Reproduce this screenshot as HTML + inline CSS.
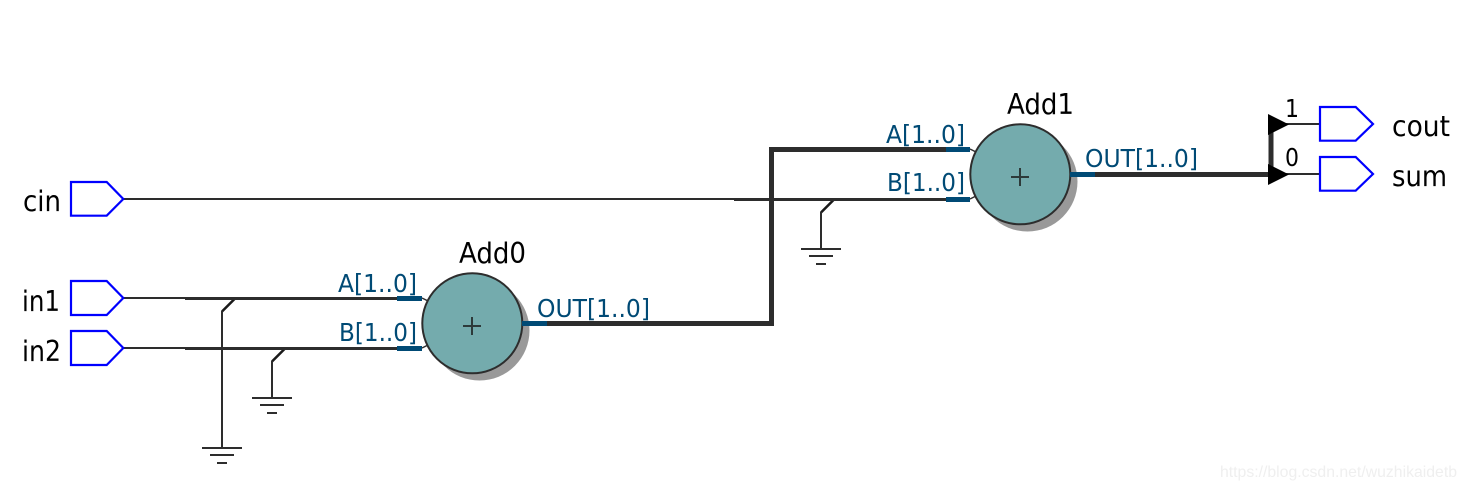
<!DOCTYPE html>
<html>
<head>
<meta charset="utf-8">
<style>
html,body{margin:0;padding:0;background:#fff;width:1466px;height:492px;overflow:hidden}
svg{display:block}
text{font-family:"DejaVu Sans","Liberation Sans",sans-serif;fill:#000}
.k{font-size:28.500px}
.n{font-size:25px}
.b{fill:#004a75;font-size:25px}
.w{stroke:#2d2d2d;fill:none;shape-rendering:crispEdges}
.d{stroke:#1a1a1a;fill:none;stroke-width:2.600}
.p{stroke:#0000ff;stroke-width:2.200;fill:#fff}
.s{stroke:#004a75;stroke-width:5;fill:none;shape-rendering:crispEdges}
</style>
</head>
<body>
<svg width="1466" height="492" viewBox="0 0 1466 492" xmlns="http://www.w3.org/2000/svg">
<!-- ground wires -->
<path class="d" d="M234.500 299L222 311.500"/>
<path class="d" d="M284.500 349L272 361.500"/>
<path class="d" d="M833.500 200L821 212.500"/>
<g class="w" stroke-width="2">
<path d="M222 311V448"/>
<path d="M272 361V398"/>
<path d="M821 212V249"/>
<path d="M202 448H242M210 455H234M217 463H227"/>
<path d="M252 398H292M260 405H284M267 413H277"/>
<path d="M801 249H841M809 256H833M816 264H826"/>
</g>
<!-- thin input wires -->
<g class="w" stroke-width="2">
<path d="M123 199H734"/>
<path d="M123 298H185"/>
<path d="M123 348H185"/>
</g>
<g class="w" stroke-width="3">
<path d="M185 298.500H398"/>
<path d="M185 348.500H398"/>
<path d="M734 199.500H947"/>
</g>
<!-- thick buses -->
<g class="w" stroke-width="5">
<path d="M546 323.500H771.500V149.500H947"/>
<path d="M1094 174.500H1272"/>
<path d="M1271 124V174"/>
</g>
<!-- output thin wires -->
<g class="w" stroke-width="2">
<path d="M1285 124H1320"/>
<path d="M1285 174H1320"/>
</g>
<g fill="none" stroke="#2d2d2d" stroke-width="1.500">
<path d="M422 298L428 301"/>
<path d="M422 348L428 345"/>
<path d="M970 149L976 152"/>
<path d="M970 199L976 196"/>
</g>
<!-- mux triangles -->
<polygon points="1268,114 1289,124.500 1268,135" fill="#000"/>
<polygon points="1268,164 1289,174.500 1268,185" fill="#000"/>
<!-- adders -->
<circle cx="479.500" cy="330.500" r="50" fill="#999"/>
<circle cx="472.300" cy="323.300" r="50" fill="#74abad" stroke="#2d2d2d" stroke-width="2"/>
<path d="M463 326H481M472 317V335" stroke="#2d3a3a" stroke-width="2" shape-rendering="crispEdges"/>
<circle cx="1027.500" cy="181.500" r="50" fill="#999"/>
<circle cx="1020.300" cy="174.300" r="50" fill="#74abad" stroke="#2d2d2d" stroke-width="2"/>
<path d="M1011 177H1029M1020 168V186" stroke="#2d3a3a" stroke-width="2" shape-rendering="crispEdges"/>
<!-- blue stubs -->
<g class="s">
<path d="M397 298.500H422"/>
<path d="M397 348.500H422"/>
<path d="M522 323.500H547"/>
<path d="M946 149.500H970"/>
<path d="M946 199.500H970"/>
<path d="M1070 174.500H1095"/>
</g>
<!-- pins -->
<polygon class="p" points="71,182 106.700,182 123.300,199 106.700,215.700 71,215.700"/>
<polygon class="p" points="71,281 106.700,281 123.300,298 106.700,315 71,315"/>
<polygon class="p" points="71,331 106.700,331 123.300,348 106.700,365 71,365"/>
<polygon class="p" points="1320,107 1355.700,107 1373,124 1355.700,140.700 1320,140.700"/>
<polygon class="p" points="1320,157 1355.700,157 1373,174 1355.700,190.700 1320,190.700"/>
<!-- labels -->
<text class="k" x="23" y="211" textLength="38" lengthAdjust="spacingAndGlyphs">cin</text>
<text class="k" x="22" y="311" textLength="38" lengthAdjust="spacingAndGlyphs">in1</text>
<text class="k" x="22" y="361" textLength="39" lengthAdjust="spacingAndGlyphs">in2</text>
<text class="k" x="459" y="263" textLength="67" lengthAdjust="spacingAndGlyphs">Add0</text>
<text class="k" x="1007" y="114" textLength="67" lengthAdjust="spacingAndGlyphs">Add1</text>
<text class="k" x="1392" y="136" textLength="58" lengthAdjust="spacingAndGlyphs">cout</text>
<text class="k" x="1392" y="186" textLength="55" lengthAdjust="spacingAndGlyphs">sum</text>
<text class="n" x="1285" y="117" textLength="14" lengthAdjust="spacingAndGlyphs">1</text>
<text class="n" x="1285" y="166" textLength="14" lengthAdjust="spacingAndGlyphs">0</text>
<text class="b" x="338" y="292" textLength="79" lengthAdjust="spacingAndGlyphs">A[1..0]</text>
<text class="b" x="339" y="341" textLength="78" lengthAdjust="spacingAndGlyphs">B[1..0]</text>
<text class="b" x="537" y="317" textLength="113" lengthAdjust="spacingAndGlyphs">OUT[1..0]</text>
<text class="b" x="886" y="143" textLength="79" lengthAdjust="spacingAndGlyphs">A[1..0]</text>
<text class="b" x="887" y="191" textLength="78" lengthAdjust="spacingAndGlyphs">B[1..0]</text>
<text class="b" x="1085" y="167" textLength="113" lengthAdjust="spacingAndGlyphs">OUT[1..0]</text>
<text x="1220" y="477" textLength="237" lengthAdjust="spacingAndGlyphs" style="font-family:'Liberation Sans',sans-serif;font-size:16px;fill:#efefef">https://blog.csdn.net/wuzhikaidetb</text>
</svg>
</body>
</html>
